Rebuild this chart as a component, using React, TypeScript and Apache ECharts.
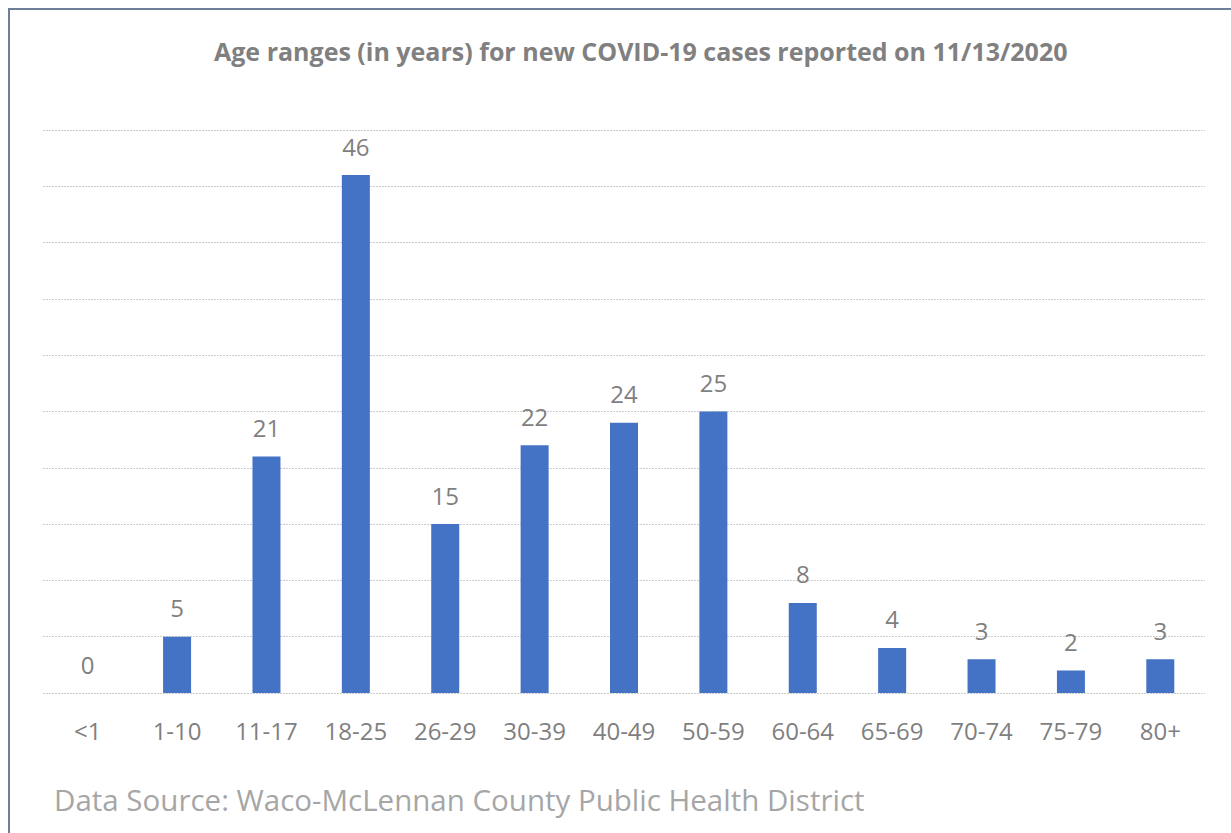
import React, { useEffect, useRef } from "react";
import * as echarts from "echarts";

const categories = ["<1", "1-10", "11-17", "18-25", "26-29", "30-39", "40-49", "50-59", "60-64", "65-69", "70-74", "75-79", "80+"];
const cases = [0, 5, 21, 46, 15, 22, 24, 25, 8, 4, 3, 2, 3];
const titleText = "Age ranges (in years) for new COVID-19 cases reported on 11/13/2020";
const sourceText = "Data Source: Waco-McLennan County Public Health District";

export default function App() {
  const ref = useRef<HTMLDivElement>(null);
  useEffect(() => {
    const chart = echarts.init(ref.current!, undefined, { renderer: "svg" });
    chart.setOption({
      animation: false,
      backgroundColor: "#ffffff",
      title: {
        text: titleText,
        left: 209,
        top: 33,
        textStyle: { fontFamily: "Open Sans", fontSize: 25, fontWeight: "bold", color: "#808080" },
      },
      graphic: [
        {
          type: "rect",
          shape: { x: 9, y: 9, width: 1240, height: 840 },
          style: { fill: "none", stroke: "#6e7e96", lineWidth: 2 },
          silent: true,
        },
        {
          type: "text",
          left: 54,
          top: 784,
          style: { text: sourceText, fontFamily: "Open Sans", fontSize: 29.5, fill: "#a6a6a6" },
        },
      ],
      grid: { left: 43, right: 26, top: 130, bottom: 140 },
      xAxis: {
        type: "category",
        data: categories,
        axisLine: { show: false },
        axisTick: { show: false },
        axisLabel: { margin: 25, fontFamily: "Open Sans", fontSize: 24, color: "#7f7f7f" },
      },
      yAxis: {
        type: "value",
        min: 0,
        max: 50,
        interval: 5,
        axisLabel: { show: false },
        axisLine: { show: false },
        axisTick: { show: false },
        splitLine: { lineStyle: { color: "#cccccc", type: [2, 1], width: 1 } },
      },
      series: [
        {
          type: "bar",
          data: cases,
          barWidth: 28,
          itemStyle: { color: "#4472c4" },
          label: {
            show: true,
            position: "top",
            distance: 17,
            fontFamily: "Open Sans",
            fontSize: 24,
            color: "#7f7f7f",
          },
        },
      ],
    });
    return () => chart.dispose();
  }, []);
  return <div ref={ref} style={{ position: "absolute", left: 0, top: 0, width: 1231, height: 833 }} />;
}
